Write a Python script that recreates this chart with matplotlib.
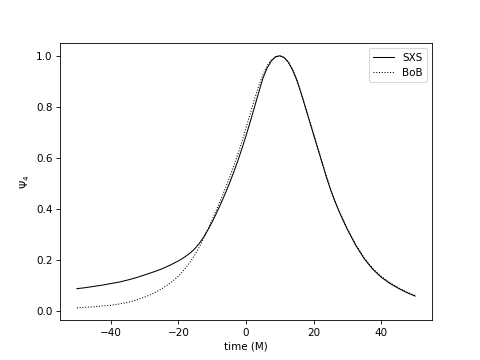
import numpy as np
import matplotlib
matplotlib.use("Agg")
from matplotlib import pyplot as plt

# time axis (M): coarse in the tails, finer around the peak
time_vals = [-50, -47.5, -45, -42.5, -40, -37.5, -35, -32.5, -30, -27.5,
             -25, -22.5, -20, -18.75, -17.5, -16.25, -15, -13.75, -12.5, -11.25,
             -10, -8.75, -7.5, -6.25, -5, -3.75, -2.5, -1.25, 0, 1.25,
             2.5, 3.75, 5, 6.25, 7.5, 8.75, 10, 11.25, 12.5, 13.75,
             15, 16.25, 17.5, 18.75, 20, 21.25, 22.5, 23.75, 25, 26.25,
             27.5, 28.75, 30, 32.5, 35, 37.5, 40, 42.5, 45, 47.5, 50]

# numerical relativity waveform amplitude (normalised)
sxs = [0.086, 0.090, 0.095, 0.100, 0.106, 0.112, 0.120, 0.129, 0.140, 0.151,
       0.163, 0.178, 0.195, 0.205, 0.216, 0.229, 0.245, 0.265, 0.289, 0.317,
       0.348, 0.382, 0.418, 0.456, 0.496, 0.539, 0.585, 0.634, 0.686, 0.741,
       0.798, 0.856, 0.912, 0.952, 0.980, 0.996, 1.000, 0.993, 0.975, 0.945,
       0.905, 0.855, 0.800, 0.745, 0.690, 0.635, 0.580, 0.525, 0.475, 0.430,
       0.390, 0.353, 0.318, 0.255, 0.203, 0.162, 0.131, 0.107, 0.088, 0.071, 0.057]

# Backwards-one-Body model
bob = [0.011, 0.013, 0.015, 0.018, 0.021, 0.026, 0.032, 0.041, 0.053, 0.067,
       0.085, 0.107, 0.135, 0.153, 0.173, 0.196, 0.222, 0.251, 0.285, 0.320,
       0.357, 0.395, 0.434, 0.475, 0.518, 0.563, 0.611, 0.661, 0.716, 0.773,
       0.829, 0.881, 0.926, 0.961, 0.984, 0.996, 1.000, 0.994, 0.977, 0.948,
       0.908, 0.858, 0.803, 0.748, 0.693, 0.638, 0.583, 0.528, 0.478, 0.433,
       0.393, 0.356, 0.321, 0.258, 0.206, 0.165, 0.134, 0.110, 0.090, 0.073, 0.059]

fig = plt.figure(figsize=(6.4, 4.8), dpi=75)
plt.plot(time_vals, sxs, color="k", linewidth=1.0, label="SXS")
plt.plot(time_vals, bob, color="k", linewidth=1.0, linestyle=":", label="BoB")
plt.xlabel("time (M)")
plt.ylabel(r"$\Psi_4$")
plt.legend(loc="upper right")

fig.savefig("out.png", dpi=75)
